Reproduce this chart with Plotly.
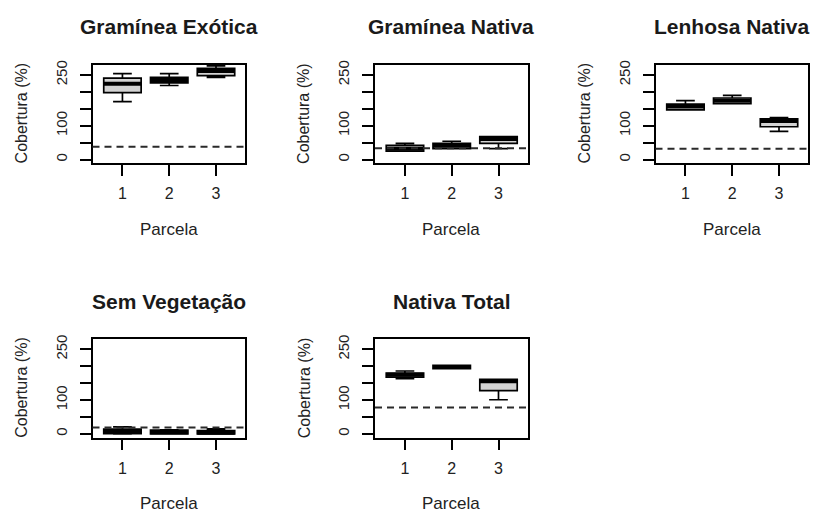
import plotly.graph_objects as go

# --- data -------------------------------------------------------------
titles = ["Gramínea Exótica", "Gramínea Nativa", "Lenhosa Nativa",
          "Sem Vegetação", "Nativa Total"]
parcelas = [1, 2, 3]

# box statistics per panel (one value per parcela)
lower = [[171, 219, 243], [25, 32, 32], [147, 165, 83], [0, 0, 0], [163, 193, 101]]
q1 = [[198, 227, 248], [25, 32, 48], [147, 165, 97], [1, 0, 0], [168, 193, 128]]
median = [[224, 235, 262], [32, 41, 61], [157, 174, 114], [7, 5, 3], [175, 198, 156]]
q3 = [[241, 243, 270], [42, 48, 68], [164, 182, 120], [14, 11, 10], [180, 203, 161]]
upper = [[254, 254, 277], [48, 54, 68], [174, 190, 124], [21, 12, 15], [186, 203, 161]]

# horizontal reference level per panel
ref_level = [38, 33, 32, 19, 78]

y_ticks = [0, 50, 100, 150, 200, 250]
y_ticktext = ["0", "", "100", "", "", "250"]

# --- layout helpers ----------------------------------------------------
W, H = 816, 513
col_left = [92.5, 375, 655.5]
row_top = [61, 337.5]
pw, ph = 152.5, 99.5
FONT = "Liberation Sans, Arial, sans-serif"
BOX_W = 0.8

fig = go.Figure()
annotations = []
shapes = []
layout_axes = {}

for k, name in enumerate(titles):
    r, c = divmod(k, 3)
    left, top = col_left[c], row_top[r]
    x0, x1 = left / W, (left + pw) / W
    y1, y0 = 1 - top / H, 1 - (top + ph) / H
    sfx = "" if k == 0 else str(k + 1)
    xa, ya = "x" + sfx, "y" + sfx

    fig.add_trace(go.Box(
        x=parcelas, q1=q1[k], median=median[k], q3=q3[k],
        lowerfence=lower[k], upperfence=upper[k],
        width=BOX_W, whiskerwidth=0.5, boxpoints=False,
        fillcolor="#d3d3d3", line=dict(color="black", width=1.7),
        xaxis=xa, yaxis=ya, showlegend=False, hoverinfo="skip"))

    # heavy median bars
    mx, my = [], []
    for p, m in zip(parcelas, median[k]):
        mx += [p - BOX_W / 2, p + BOX_W / 2, None]
        my += [m, m, None]
    fig.add_trace(go.Scatter(
        x=mx, y=my, mode="lines", line=dict(color="black", width=4),
        xaxis=xa, yaxis=ya, showlegend=False, hoverinfo="skip"))

    shapes.append(dict(
        type="line", xref=f"{xa} domain", x0=0, x1=1,
        yref=ya, y0=ref_level[k], y1=ref_level[k],
        line=dict(color="#2a2a2a", width=2, dash="7px,5px")))

    axis_common = dict(
        showline=True, mirror=True, linecolor="black", linewidth=1.8,
        ticks="outside", ticklen=11, tickwidth=1.7, tickcolor="black",
        showgrid=False, zeroline=False, fixedrange=True)
    layout_axes["xaxis" + sfx] = dict(
        axis_common, domain=[x0, x1], anchor=ya, range=[0.36, 3.62],
        tickvals=parcelas, ticktext=[str(p) for p in parcelas],
        ticklabelstandoff=4,
        tickfont=dict(family=FONT, size=16, color="#222222"))
    layout_axes["yaxis" + sfx] = dict(
        axis_common, domain=[y0, y1], anchor=xa, range=[-11, 281],
        tickvals=y_ticks, ticktext=y_ticktext, tickangle=-90,
        ticklabelstandoff=7,
        tickfont=dict(family=FONT, size=15, color="#222222"))

    cx = (left + pw / 2) / W
    annotations.append(dict(
        text=f"<b>{name}</b>", x=cx, y=1 - (top - 38) / H,
        xref="paper", yref="paper", showarrow=False,
        xanchor="center", yanchor="middle",
        font=dict(family=FONT, size=21, color="#1a1a1a")))
    annotations.append(dict(
        text="Parcela", x=cx, y=1 - (top + ph + 77) / H,
        xref="paper", yref="paper", showarrow=False, borderpad=0,
        xanchor="center", yanchor="bottom",
        font=dict(family=FONT, size=17, color="#222222")))
    annotations.append(dict(
        text="Cobertura (%)", x=(left - 71) / W, y=1 - (top + ph / 2) / H,
        xref="paper", yref="paper", showarrow=False, textangle=-90,
        xanchor="center", yanchor="middle",
        font=dict(family=FONT, size=16, color="#222222")))

fig.update_layout(
    width=W, height=H, margin=dict(l=0, r=0, t=0, b=0),
    paper_bgcolor="white", plot_bgcolor="white",
    annotations=annotations, shapes=shapes, **layout_axes)

fig.write_html("out.html")
